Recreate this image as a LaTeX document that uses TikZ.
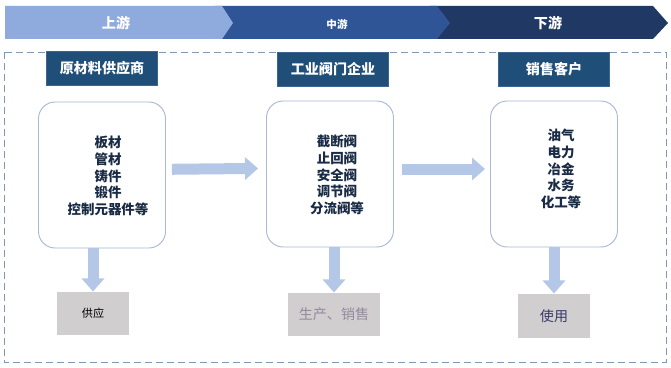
\documentclass[tikz,border=0pt]{standalone}
\usepackage{fontspec}
\usepackage{xcolor}
\usetikzlibrary{arrows.meta}
\usetikzlibrary{positioning}
\newfontfamily\cjk{Noto Sans CJK SC}
\definecolor{upblue}{HTML}{8FAADC}
\definecolor{midblue}{HTML}{2F5597}
\definecolor{downnavy}{HTML}{203864}
\definecolor{headblue}{HTML}{1F4E79}
\definecolor{headline}{HTML}{3A6690}
\definecolor{boxline}{HTML}{A9B9D6}
\definecolor{arrowblue}{HTML}{B4C7E7}
\definecolor{resgray}{HTML}{D0CECE}
\definecolor{dashline}{HTML}{8497B0}
\definecolor{itemtext}{HTML}{1A2B45}
\definecolor{salestext}{HTML}{958A9C}
\definecolor{usetext}{HTML}{383A6E}

\tikzset{
    bannertext/.style={text=white, inner sep=0pt, font=\cjk\bfseries\fontsize{12}{14}\selectfont},
    header/.style={fill=headblue, draw=headline, line width=0.8pt, minimum width=3.33cm,
        minimum height=1.02cm, inner sep=0pt, text=white, font=\cjk\bfseries\fontsize{12}{14}\selectfont},
    stage/.style={draw=boxline, line width=0.8pt, rounded corners=0.5cm, fill=white,
        minimum width=3.81cm, minimum height=4.38cm},
    items/.style={align=center, inner sep=0pt, text=itemtext,
        font=\cjk\bfseries\fontsize{11.5}{14.2}\selectfont},
    result/.style={fill=resgray, inner sep=0pt, minimum height=1.29cm, minimum width=2.16cm,
        font=\cjk\fontsize{12}{14}\selectfont},
    flow/.style={draw=arrowblue, line width=0.33cm, -{Triangle[width=0.66cm, length=0.39cm]}},
}

\begin{document}
\begin{tikzpicture}[x=0.03cm, y=-0.03cm]
    \fill[white] (0,0) rectangle (671,368);
    % banner
    \fill[downnavy] (430,6) -- (653,6) -- (668,23) -- (653,39) -- (430,39) -- cycle;
    \fill[midblue] (215,6) -- (437,6) -- (450,23) -- (437,39) -- (215,39) -- cycle;
    \fill[upblue] (5,6) -- (222,6) -- (233,23) -- (222,39) -- (5,39) -- cycle;
    \node[bannertext] (up) at (116,23) {上游};
    \node[bannertext, font=\cjk\bfseries\fontsize{9}{10}\selectfont] (mid) at (337,24) {中游};
    \node[bannertext] (down) at (548,23) {下游};
    \draw[dashline, line width=0.8pt, dash pattern=on 0.21cm off 0.12cm] (4,52) rectangle (666,362);

    \node[stage] (src) at (102,175) {};
    \node[stage] (mfr) at (330,174) {};
    \node[stage] (cust) at (554,174) {};
    \node[items] (srcitems) at (108,176) {板材\\管材\\铸件\\锻件\\控制元器件等};
    \node[items] (mfritems) at (337,175) {截断阀\\止回阀\\安全阀\\调节阀\\分流阀等};
    \node[items] (custitems) at (561,169) {油气\\电力\\冶金\\水务\\化工等};

    \node[header, above=0.48cm of src] (srchead) {原材料供应商};
    \node[header, above=0.42cm of mfr, xshift=0.09cm] (mfrhead) {工业阀门企业};
    \node[header, above=0.42cm of cust] (custhead) {销售客户};

    \node[result, below=1.29cm of src, xshift=-0.27cm, font=\cjk\fontsize{9.5}{11}\selectfont]
        (supply) {\raisebox{-0.2cm}{供应}};
    \node[result, below=1.35cm of mfr, xshift=0.12cm, minimum width=2.76cm, text=salestext]
        (sales) {\raisebox{-0.1cm}{生产、销售}};
    \node[result, below=1.38cm of cust, minimum height=1.32cm, text=usetext]
        (use) {使用};

    \draw[flow, shorten <=0.18cm, shorten >=0.24cm] ([yshift=0.17cm]src.east) -- ([yshift=0.17cm]mfr.west);   % upstream to midstream
    \draw[flow, shorten <=0.24cm, shorten >=0.15cm] ([yshift=0.15cm]mfr.east) -- ([yshift=0.15cm]cust.west);  % midstream to downstream
    \draw[flow] (supply.north |- src.south) -- (supply.north);
    \draw[flow] (sales.north |- mfr.south) -- (sales.north);
    \draw[flow] (use.north |- cust.south) -- (use.north);
\end{tikzpicture}
\end{document}
